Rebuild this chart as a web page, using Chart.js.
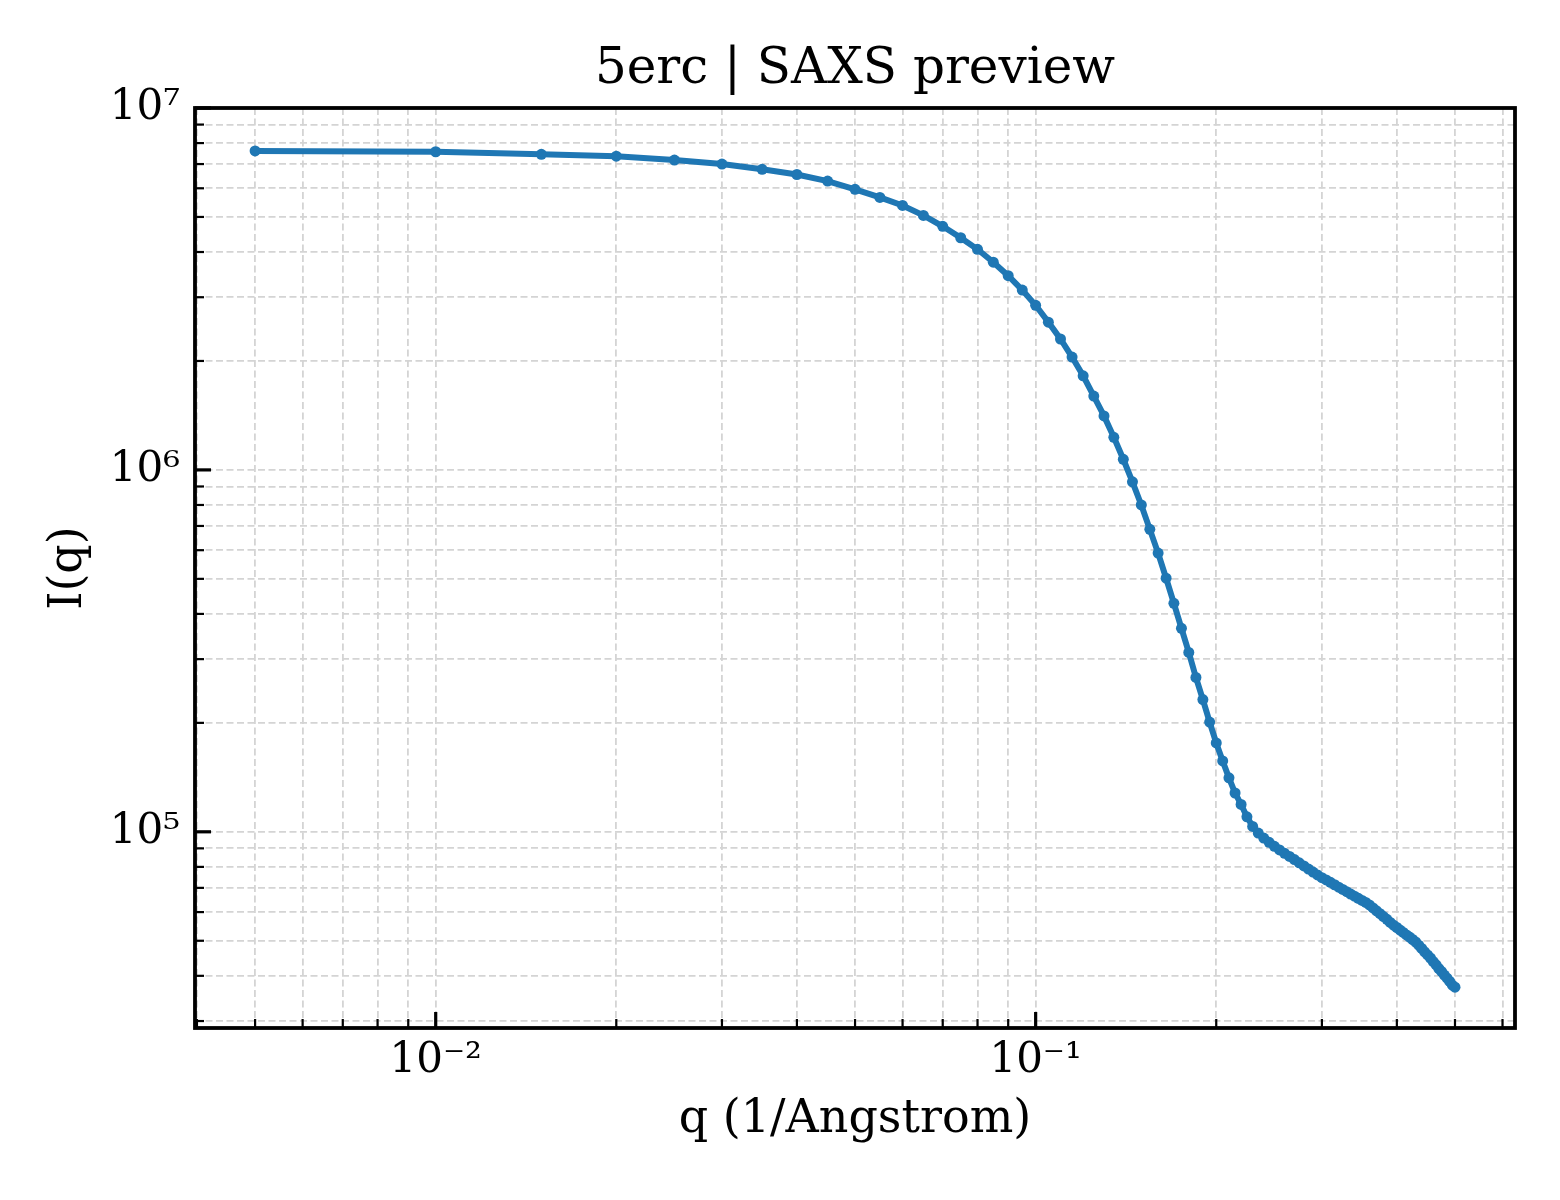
<!DOCTYPE html>
<html>
<head>
<meta charset="utf-8">
<title>5erc | SAXS preview</title>
<script src="https://cdn.jsdelivr.net/npm/chart.js@4.4.0/dist/chart.umd.min.js"></script>
<style>
    html, body { margin: 0; padding: 0; background: #fff; }
    #wrap { width: 1560px; height: 1200px; }
</style>
</head>
<body>
<div id="wrap"><canvas id="saxsChart" width="1560" height="1200"></canvas></div>
<script>
// Start Data
const Q_VALUES = [
    0.005, 0.010, 0.015, 0.020, 0.025, 0.030, 0.035, 0.040, 0.045, 0.050,
    0.055, 0.060, 0.065, 0.070, 0.075, 0.080, 0.085, 0.090, 0.095, 0.100,
    0.105, 0.110, 0.115, 0.120, 0.125, 0.130, 0.135, 0.140, 0.145, 0.150,
    0.155, 0.160, 0.165, 0.170, 0.175, 0.180, 0.185, 0.190, 0.195, 0.200,
    0.205, 0.210, 0.215, 0.220, 0.225, 0.230, 0.235, 0.240, 0.245, 0.250,
    0.255, 0.260, 0.265, 0.270, 0.275, 0.280, 0.285, 0.290, 0.295, 0.300,
    0.305, 0.310, 0.315, 0.320, 0.325, 0.330, 0.335, 0.340, 0.345, 0.350,
    0.355, 0.360, 0.365, 0.370, 0.375, 0.380, 0.385, 0.390, 0.395, 0.400,
    0.405, 0.410, 0.415, 0.420, 0.425, 0.430, 0.435, 0.440, 0.445, 0.450,
    0.455, 0.460, 0.465, 0.470, 0.475, 0.480, 0.485, 0.490, 0.495, 0.500
];

const INTENSITY = [
    7610000, 7570000, 7450000, 7360000, 7180000, 7000000, 6770000, 6550000, 6280000, 5960000,
    5660000, 5380000, 5050000, 4710000, 4380000, 4070000, 3750000, 3440000, 3140000, 2850000,
    2560000, 2300000, 2050000, 1820000, 1600000, 1410000, 1230000, 1070000, 927000, 800000,
    685000, 589000, 502000, 428000, 365000, 313000, 267000, 232000, 201000, 176000,
    157000, 141000, 128000, 119000, 110000, 103500, 99200, 96100, 93500, 91200,
    89100, 87200, 85500, 83800, 82100, 80500, 78900, 77400, 76000, 74700,
    73600, 72500, 71400, 70300, 69300, 68300, 67300, 66400, 65500, 64600,
    63800, 62800, 61600, 60500, 59400, 58300, 57300, 56200, 55200, 54400,
    53500, 52700, 51900, 51200, 50400, 49600, 48600, 47600, 46600, 45700,
    44800, 43800, 42900, 41900, 41100, 40200, 39400, 38600, 37700, 37200
];

const X_MAJOR_TICKS = [0.01, 0.1];
const X_TICK_LABELS = ['10\u207B\u00B2', '10\u207B\u00B9'];
const X_MINOR_TICKS = [0.004, 0.005, 0.006, 0.007, 0.008, 0.009,
    0.02, 0.03, 0.04, 0.05, 0.06, 0.07, 0.08, 0.09,
    0.2, 0.3, 0.4, 0.5, 0.6];

const Y_MAJOR_TICKS = [1e5, 1e6, 1e7];
const Y_TICK_LABELS = ['10\u2075', '10\u2076', '10\u2077'];
const Y_MINOR_TICKS = [3e4, 4e4, 5e4, 6e4, 7e4, 8e4, 9e4,
    2e5, 3e5, 4e5, 5e5, 6e5, 7e5, 8e5, 9e5,
    2e6, 3e6, 4e6, 5e6, 6e6, 7e6, 8e6, 9e6];
// !!End Data

const SERIF = "'DejaVu Serif', 'Liberation Serif', serif";
const LINE_BLUE = '#1f77b4';
const GRID_GREY = '#d4d4d4';

Chart.defaults.color = '#000';
Chart.defaults.font.family = SERIF;

// fixed tick list for a log axis
function buildTicks(majors, minors) {
    return function (scale) {
        scale.ticks = majors.concat(minors)
            .filter(v => v >= scale.min && v <= scale.max)
            .sort((a, b) => a - b)
            .map(v => ({ value: v, major: majors.includes(v) }));
    };
}

function tickLabel(majors, labels) {
    return function (value) {
        const i = majors.indexOf(value);
        return i >= 0 ? labels[i] : '';
    };
}

// Start Frame + inward ticks (matplotlib style)
const frameTicks = {
    id: 'frameTicks',
    afterDraw(chart) {
        const { ctx, chartArea: a, scales: { x, y } } = chart;
        ctx.save();
        ctx.strokeStyle = '#000';
        ctx.lineCap = 'butt';

        X_MAJOR_TICKS.concat(X_MINOR_TICKS).forEach(v => {
            if (v < x.min || v > x.max) return;
            const major = X_MAJOR_TICKS.includes(v);
            const px = x.getPixelForValue(v);
            ctx.lineWidth = major ? 3.2 : 2.2;
            ctx.beginPath();
            ctx.moveTo(px, a.bottom);
            ctx.lineTo(px, a.bottom - (major ? 16 : 9));
            ctx.stroke();
        });

        Y_MAJOR_TICKS.concat(Y_MINOR_TICKS).forEach(v => {
            if (v < y.min || v > y.max) return;
            const major = Y_MAJOR_TICKS.includes(v);
            const py = y.getPixelForValue(v);
            ctx.lineWidth = major ? 3.2 : 2.2;
            ctx.beginPath();
            ctx.moveTo(a.left, py);
            ctx.lineTo(a.left + (major ? 16 : 9), py);
            ctx.stroke();
        });

        ctx.lineWidth = 3.8;
        ctx.strokeRect(a.left, a.top, a.right - a.left, a.bottom - a.top);
        ctx.restore();
    }
};
// !!End Frame

const ctx = document.getElementById('saxsChart').getContext('2d');

new Chart(ctx, {
    type: 'line',
    data: {
        datasets: [{
            label: '5erc',
            data: Q_VALUES.map((q, i) => ({ x: q, y: INTENSITY[i] })),
            borderColor: LINE_BLUE,
            backgroundColor: LINE_BLUE,
            borderWidth: 6,
            tension: 0,
            fill: false,
            pointRadius: 5.5,
            pointBorderWidth: 0,
            pointBackgroundColor: LINE_BLUE
        }]
    },
    options: {
        responsive: false,
        devicePixelRatio: 1,
        animation: false,
        events: [],
        layout: {
            padding: { left: 0, right: 45, top: 0, bottom: 0 }
        },
        scales: {
            x: {
                type: 'logarithmic',
                position: 'bottom',
                min: 0.00397,
                max: 0.6295,
                bounds: 'data',
                afterBuildTicks: buildTicks(X_MAJOR_TICKS, X_MINOR_TICKS),
                afterFit: function (scale) { scale.height = 172; },
                grid: {
                    color: GRID_GREY,
                    lineWidth: 1.8,
                    drawTicks: false
                },
                border: { display: false, dash: [7, 3.5] },
                ticks: {
                    autoSkip: false,
                    maxRotation: 0,
                    minRotation: 0,
                    padding: 8,
                    font: { size: 42, family: SERIF },
                    callback: tickLabel(X_MAJOR_TICKS, X_TICK_LABELS)
                },
                title: {
                    display: true,
                    text: 'q (1/Angstrom)',
                    font: { size: 46, family: SERIF },
                    padding: { top: 0, bottom: 52 }
                }
            },
            y: {
                type: 'logarithmic',
                position: 'left',
                min: 28700,
                max: 1e7,
                bounds: 'data',
                afterBuildTicks: buildTicks(Y_MAJOR_TICKS, Y_MINOR_TICKS),
                afterFit: function (scale) { scale.width = 195; },
                grid: {
                    color: GRID_GREY,
                    lineWidth: 1.8,
                    drawTicks: false
                },
                border: { display: false, dash: [7, 3.5] },
                ticks: {
                    autoSkip: false,
                    padding: 15,
                    font: { size: 42, family: SERIF },
                    callback: tickLabel(Y_MAJOR_TICKS, Y_TICK_LABELS)
                },
                title: {
                    display: true,
                    text: 'I(q)',
                    font: { size: 46, family: SERIF },
                    padding: { top: 41, bottom: 0 }
                }
            }
        },
        plugins: {
            legend: { display: false },
            tooltip: { enabled: false },
            title: {
                display: true,
                fullSize: false,
                text: '5erc | SAXS preview',
                color: '#000',
                font: { size: 50, family: SERIF, weight: 'normal' },
                padding: { top: 40, bottom: 8 }
            }
        }
    },
    plugins: [frameTicks]
});
</script>
</body>
</html>
